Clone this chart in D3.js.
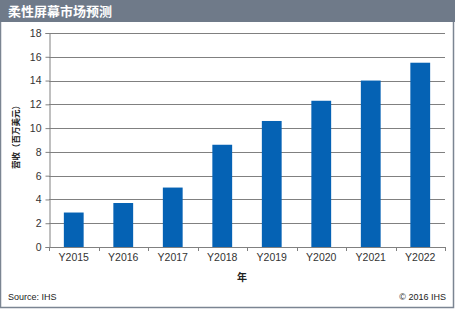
<!DOCTYPE html>
<html>
<head>
<meta charset="utf-8">
<script src="https://cdn.jsdelivr.net/npm/d3@7"></script>
<style>
  body { margin: 0; background: #fff; }
  svg { display: block; font-family: "Liberation Sans", Arial, sans-serif; }
</style>
</head>
<body>
<div id="chart"></div>
<script>
/* 柔性屏幕市场预测 - bar chart */

const years = ["Y2015", "Y2016", "Y2017", "Y2018", "Y2019", "Y2020", "Y2021", "Y2022"];
const revenue = [2.9, 3.7, 5.0, 8.6, 10.6, 12.3, 14.0, 15.5];
const yTicks = [0, 2, 4, 6, 8, 10, 12, 14, 16, 18];

const width = 455, height = 309,
      margin = ({top: 33, right: 10, bottom: 62, left: 49});

let svg = d3.select("#chart")
    .append("svg")
    .attr("width", width)
    .attr("height", height)
    .attr("viewBox", [0, 0, width, height]);

// frame + title bar
svg.append("rect")
    .attr("x", 0.5).attr("y", 0.5)
    .attr("width", width - 2).attr("height", height - 2)
    .attr("fill", "#fff")
    .attr("stroke", "#7b8592")
    .attr("stroke-width", 1.5);

svg.append("rect")
    .attr("x", 0).attr("y", 0)
    .attr("width", width).attr("height", 22)
    .attr("fill", "#6f7a89");

svg.append("text")
    .attr("x", 8).attr("y", 16)
    .attr("fill", "#fff")
    .attr("font-size", 13)
    .attr("font-weight", "bold")
    .attr("font-family", "'Noto Sans CJK SC', sans-serif")
    .text("柔性屏幕市场预测");

let x = d3.scaleBand()
    .domain(years)
    .range([margin.left, 445])
    .paddingInner(0.6)
    .paddingOuter(0.3);

let y = d3.scaleLinear()
    .domain([0, 18])
    .range([247, margin.top]);

// gridlines
svg.append("g")
    .selectAll("line")
    .data(yTicks.filter(d => d > 0))
    .join("line")
    .attr("x1", margin.left).attr("x2", 445)
    .attr("y1", d => Math.round(y(d)) + 0.5)
    .attr("y2", d => Math.round(y(d)) + 0.5)
    .attr("stroke", "#808080");

// bars
svg.append("g")
    .selectAll("rect")
    .data(years)
    .join("rect")
    .attr("fill", "#0562b4")
    .attr("x", d => x(d))
    .attr("width", x.bandwidth())
    .attr("y", (d, i) => y(revenue[i]))
    .attr("height", (d, i) => y(0) - y(revenue[i]));

// y axis
const yAxis = g => g
    .attr("transform", `translate(${margin.left + 0.5},0)`)
    .call(d3.axisLeft(y).tickValues(yTicks).tickSize(4).tickPadding(4))
    .call(g => g.selectAll(".domain, .tick line").attr("stroke", "#808080"))
    .call(g => g.selectAll("text").attr("fill", "#333").attr("font-size", 10.5));

svg.append("g").call(yAxis);

// x axis with ticks between categories
const step = x.step();
const xg = svg.append("g");
xg.append("line")
    .attr("x1", margin.left).attr("x2", 445)
    .attr("y1", Math.round(y(0)) + 0.5).attr("y2", Math.round(y(0)) + 0.5)
    .attr("stroke", "#808080");
xg.selectAll(".sep")
    .data(d3.range(years.length + 1))
    .join("line")
    .attr("x1", i => Math.round(margin.left + i * step) + 0.5)
    .attr("x2", i => Math.round(margin.left + i * step) + 0.5)
    .attr("y1", y(0)).attr("y2", y(0) + 4)
    .attr("stroke", "#808080");
xg.selectAll("text")
    .data(years)
    .join("text")
    .attr("x", d => x(d) + x.bandwidth() / 2)
    .attr("y", 261)
    .attr("text-anchor", "middle")
    .attr("fill", "#333")
    .attr("font-size", 10.5)
    .text(d => d);

// axis titles
svg.append("text")
    .attr("transform", "translate(19, 135) rotate(-90)")
    .attr("text-anchor", "middle")
    .attr("font-size", 8.5)
    .attr("font-weight", "bold")
    .attr("font-family", "'Noto Sans CJK SC', sans-serif")
    .attr("fill", "#222")
    .text("营收（百万美元）");

svg.append("text")
    .attr("x", 242).attr("y", 281)
    .attr("text-anchor", "middle")
    .attr("font-size", 10)
    .attr("font-weight", "bold")
    .attr("font-family", "'Noto Sans CJK SC', sans-serif")
    .attr("fill", "#222")
    .text("年");

// footer
svg.append("text")
    .attr("x", 8).attr("y", 300)
    .attr("font-size", 9)
    .attr("fill", "#222")
    .text("Source:  IHS");

svg.append("text")
    .attr("x", 446).attr("y", 300)
    .attr("text-anchor", "end")
    .attr("font-size", 9)
    .attr("fill", "#222")
    .text("© 2016  IHS");
</script>
</body>
</html>
